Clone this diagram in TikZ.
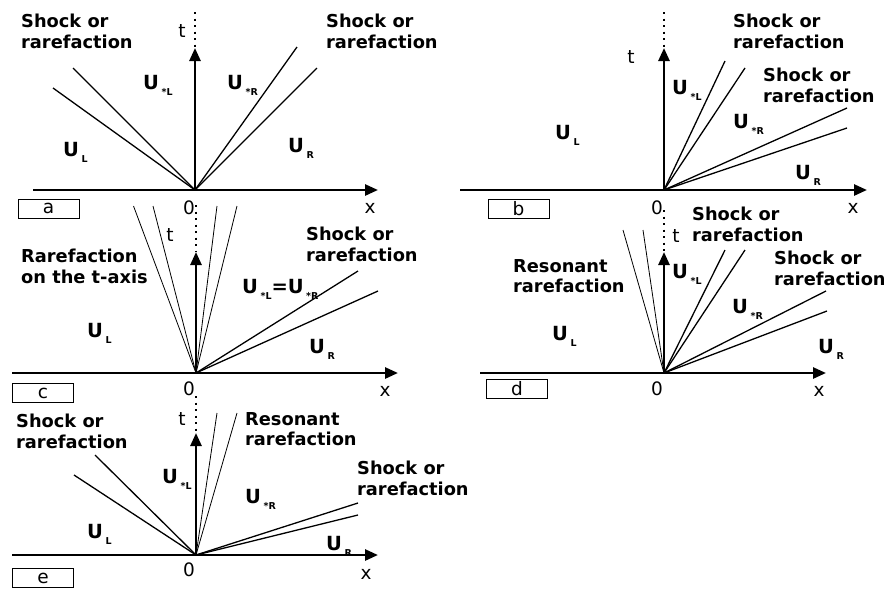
\documentclass[tikz,border=0pt]{standalone}
\usepackage{fontspec}
\setmainfont{DejaVu Sans}
\usetikzlibrary{arrows.meta}
\newcommand{\Ulab}[1]{{\fontsize{19.5}{20}\selectfont\bfseries U}\hspace{2.5pt}\raisebox{-6.5pt}{\fontsize{9.5}{9.5}\selectfont\bfseries #1}}
\begin{document}
\begin{tikzpicture}[x=1pt,y=-1pt,
  axis/.style={line width=2.6pt,-{Triangle[length=13pt,width=11pt]}},
  wave/.style={line width=1.3pt},
  fan/.style={line width=0.8pt},
  tdots/.style={line width=1.8pt,dash pattern=on 2pt off 4.5pt},
  lbl/.style={font=\bfseries\fontsize{17.8}{20.5}\selectfont,align=left,inner sep=0,anchor=north west},
  ulbl/.style={font=\fontsize{17.5}{20}\selectfont,inner sep=0,anchor=base west},
  alb/.style={font=\fontsize{18.5}{20}\selectfont,inner sep=0},
  tag/.style={draw,line width=0.8pt,minimum width=61pt,minimum height=19pt,inner sep=0,font=\fontsize{18.5}{20}\selectfont}]
\useasboundingbox (0,0) rectangle (884,590);

% ---------------- panel a
\coordinate (oa) at (195,190);
\coordinate (ta) at (195,48);
\coordinate (xa0) at (33,190);
\coordinate (xa1) at (378,190);
\coordinate (da) at (195,12);
\draw[tdots] (da) -- (ta);
\draw[axis] (xa0) -- (xa1);
\draw[axis] (oa) -- (ta);
\coordinate (a1) at (73,68);
\coordinate (a2) at (53,88);
\coordinate (a3) at (297,47);
\coordinate (a4) at (317,68);
\draw[wave] (oa) -- (a1);
\draw[wave] (oa) -- (a2);
\draw[wave] (oa) -- (a3);
\draw[wave] (oa) -- (a4);
\node[lbl] (la1) at (21,14) {Shock or\\rarefaction};
\node[lbl] (la2) at (326,14) {Shock or\\rarefaction};
\node[ulbl] (uaSL) at (143,89) {\Ulab{*L}};
\node[ulbl] (uaSR) at (227,89) {\Ulab{*R}};
\node[ulbl] (uaL) at (63,156) {\Ulab{L}};
\node[ulbl] (uaR) at (288,152) {\Ulab{R}};
\node[alb] (tla) at (182,31) {t};
\node[alb] (zla) at (189,208) {0};
\node[alb] (xla) at (370,208) {x};
\node[tag] (boxa) at (48.5,208.5) {a};

% ---------------- panel b
\coordinate (ob) at (664,190);
\coordinate (tb) at (664,48);
\coordinate (xb0) at (460,190);
\coordinate (xb1) at (867,190);
\coordinate (db) at (664,12);
\draw[tdots] (db) -- (tb);
\draw[axis] (xb0) -- (xb1);
\draw[axis] (ob) -- (tb);
\coordinate (b1) at (725,61);
\coordinate (b2) at (745,68);
\coordinate (b3) at (847,108);
\coordinate (b4) at (847,128);
\draw[wave] (ob) -- (b1);
\draw[wave] (ob) -- (b2);
\draw[wave] (ob) -- (b3);
\draw[wave] (ob) -- (b4);
\node[lbl] (lb1) at (733,14) {Shock or\\rarefaction};
\node[lbl] (lb2) at (763,68) {Shock or\\rarefaction};
\node[ulbl] (ubSL) at (672,94) {\Ulab{*L}};
\node[ulbl] (ubSR) at (733,128) {\Ulab{*R}};
\node[ulbl] (ubL) at (555,139) {\Ulab{L}};
\node[ulbl] (ubR) at (795,179) {\Ulab{R}};
\node[alb] (tlb) at (631,57) {t};
\node[alb] (zlb) at (657,208) {0};
\node[alb] (xlb) at (853,208) {x};
\node[tag] (boxb) at (518.5,208.5) {b};

% ---------------- panel c
\coordinate (oc) at (196,373);
\coordinate (tc) at (196,252);
\coordinate (xc0) at (12,373);
\coordinate (xc1) at (398,373);
\coordinate (dc) at (196,205);
\draw[tdots] (dc) -- (tc);
\draw[axis] (xc0) -- (xc1);
\draw[axis] (oc) -- (tc);
\coordinate (c1) at (133.5,206);
\coordinate (c2) at (153,206);
\coordinate (c3) at (217,206);
\coordinate (c4) at (237,206);
\coordinate (c5) at (358,271);
\coordinate (c6) at (378,291);
\draw[fan] (oc) -- (c1);
\draw[fan] (oc) -- (c2);
\draw[fan] (oc) -- (c3);
\draw[fan] (oc) -- (c4);
\draw[wave] (oc) -- (c5);
\draw[wave] (oc) -- (c6);
\node[lbl] (lc1) at (21,249) {Rarefaction\\on the t-axis};
\node[lbl] (lc2) at (306,227) {Shock or\\rarefaction};
\node[ulbl] (ucS) at (242,293) {\Ulab{*L}{\fontsize{19.5}{20}\selectfont\bfseries =}\Ulab{*R}};
\node[ulbl] (ucL) at (87,337) {\Ulab{L}};
\node[ulbl] (ucR) at (309,353) {\Ulab{R}};
\node[alb] (tlc) at (170,235) {t};
\node[alb] (zlc) at (189,389) {0};
\node[alb] (xlc) at (385,391) {x};
\node[tag] (boxc) at (43,393) {c};

% ---------------- panel d
\coordinate (od) at (664,373);
\coordinate (td) at (664,252);
\coordinate (xd0) at (480,373);
\coordinate (xd1) at (826,373);
\coordinate (dd) at (664,210);
\draw[tdots] (dd) -- (td);
\draw[axis] (xd0) -- (xd1);
\draw[axis] (od) -- (td);
\coordinate (d1) at (623,230);
\coordinate (d2) at (643,230);
\coordinate (d3) at (725,250);
\coordinate (d4) at (745,250);
\coordinate (d5) at (826,291);
\coordinate (d6) at (827,311);
\draw[fan] (od) -- (d1);
\draw[fan] (od) -- (d2);
\draw[wave] (od) -- (d3);
\draw[wave] (od) -- (d4);
\draw[wave] (od) -- (d5);
\draw[wave] (od) -- (d6);
\node[lbl] (ld1) at (692,207) {Shock or\\rarefaction};
\node[lbl] (ld2) at (774,251) {Shock or\\rarefaction};
\node[lbl] (ld3) at (513,259) {Resonant\\rarefaction};
\node[ulbl] (udSL) at (672,278) {\Ulab{*L}};
\node[ulbl] (udSR) at (732,313) {\Ulab{*R}};
\node[ulbl] (udL) at (552,340) {\Ulab{L}};
\node[ulbl] (udR) at (818,353) {\Ulab{R}};
\node[alb] (tld) at (676,236) {t};
\node[alb] (zld) at (657,389) {0};
\node[alb] (xld) at (819,391) {x};
\node[tag] (boxd) at (517,389) {d};

% ---------------- panel e
\coordinate (oe) at (196,555);
\coordinate (te) at (196,433);
\coordinate (xe0) at (12,555);
\coordinate (xe1) at (378,555);
\coordinate (de) at (196,396);
\draw[tdots] (de) -- (te);
\draw[axis] (xe0) -- (xe1);
\draw[axis] (oe) -- (te);
\coordinate (e1) at (217,413);
\coordinate (e2) at (237,413);
\coordinate (e3) at (95,455);
\coordinate (e4) at (74,475);
\coordinate (e5) at (358,503);
\coordinate (e6) at (358,515);
\draw[fan] (oe) -- (e1);
\draw[fan] (oe) -- (e2);
\draw[wave] (oe) -- (e3);
\draw[wave] (oe) -- (e4);
\draw[wave] (oe) -- (e5);
\draw[wave] (oe) -- (e6);
\node[lbl] (le1) at (16,414) {Shock or\\rarefaction};
\node[lbl] (le2) at (245,412) {Resonant\\rarefaction};
\node[lbl] (le3) at (357,461) {Shock or\\rarefaction};
\node[ulbl] (ueSL) at (162,483) {\Ulab{*L}};
\node[ulbl] (ueSR) at (245,503) {\Ulab{*R}};
\node[ulbl] (ueL) at (87,538) {\Ulab{L}};
\node[ulbl] (ueR) at (326,550) {\Ulab{R}};
\node[alb] (tle) at (182,419) {t};
\node[alb] (zle) at (189,570) {0};
\node[alb] (xle) at (366,574) {x};
\node[tag] (boxe) at (43,578) {e};
\end{tikzpicture}
\end{document}
